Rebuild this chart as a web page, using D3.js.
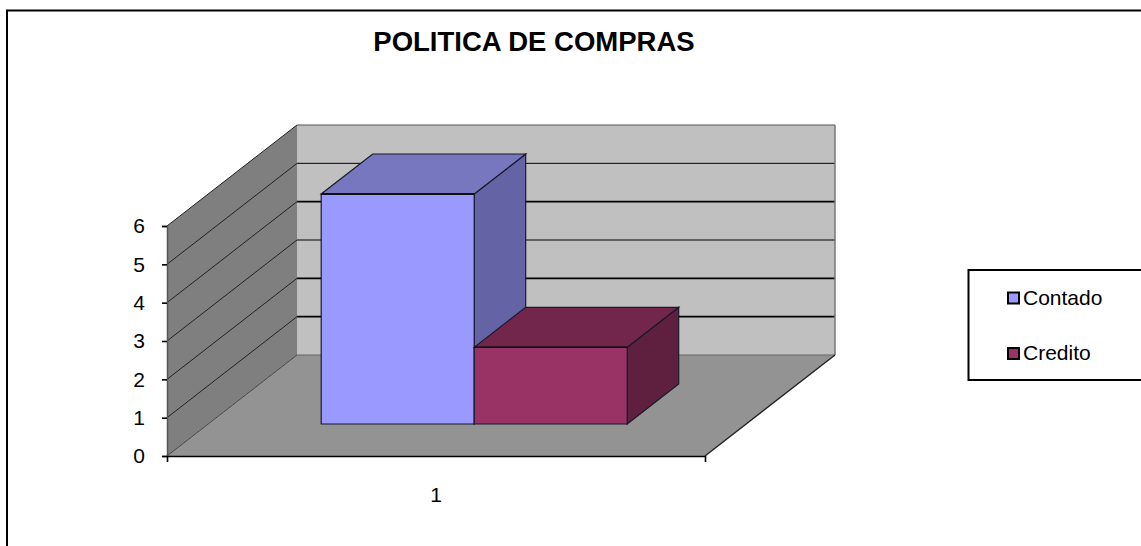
<!DOCTYPE html>
<html>
<head>
<meta charset="utf-8">
<script src="https://cdn.jsdelivr.net/npm/d3@7"></script>
<style>
	html, body {margin: 0; padding: 0; background: #fff; overflow: hidden;}
	text {font-family: "Liberation Sans", Arial, sans-serif; fill: #000;}
</style>
</head>
<body>
<div id="chart"></div>
<script>
var title = "POLITICA DE COMPRAS";
var categories = ["1"];
var seriesNames = ["Contado", "Credito"];
var seriesValues = [6, 2];
var yTicks = [0, 1, 2, 3, 4, 5, 6];

var barColors = {
	Contado : {front : "#9999ff", top : "#7777bf", side : "#6363a5"},
	Credito : {front : "#993366", top : "#73264c", side : "#5f203f"}
};

var svg = d3.select("#chart").append("svg")
			.attr("width", 1141)
			.attr("height", 546);

// front plane of the box, depth is handled apart
var y = d3.scaleLinear().domain([0, 6]).range([456, 226]);
var x = d3.scaleBand().domain(categories).range([167, 705]);
var barX = d3.scaleBand().domain(seriesNames)
			.range([x(categories[0]) + 113, x(categories[0]) + 419]);
var depthX = d3.scaleLinear().domain([0, 1]).range([0, 130]);
var depthY = d3.scaleLinear().domain([0, 1]).range([0, -101]);

// value space to screen: px on the front plane, v is the value, d the depth
function pt(px, v, d) {
	return [px + depthX(d), y(v) + depthY(d)];
}

var line = d3.line();

function poly(points, fill, stroke, width) {
	svg.append("path")
		.attr("d", line(points) + "Z")
		.attr("fill", fill)
		.attr("stroke", stroke || "none")
		.attr("stroke-width", width || 0)
		.attr("stroke-linejoin", "miter");
}

function seg(a, b, stroke, width) {
	svg.append("path")
		.attr("d", line([a, b]))
		.attr("fill", "none")
		.attr("stroke", stroke)
		.attr("stroke-width", width);
}

// outer frame
svg.append("rect")
	.attr("x", 7).attr("y", 10.5)
	.attr("width", 1200).attr("height", 600)
	.attr("fill", "#fff")
	.attr("stroke", "#000")
	.attr("stroke-width", 2);

svg.append("text")
	.attr("x", 534).attr("y", 51)
	.attr("text-anchor", "middle")
	.attr("font-size", 27.5)
	.attr("font-weight", "bold")
	.text(title);

// walls and floor
var x0 = x.range()[0], x1 = x.range()[1];
poly([pt(x0, 6, 1), pt(x1, 6, 1), pt(x1, 0, 1), pt(x0, 0, 1)], "#c0c0c0");
poly([pt(x0, 6, 0), pt(x0, 6, 1), pt(x0, 0, 1), pt(x0, 0, 0)], "#7f7f7f");
poly([pt(x0, 0, 0), pt(x1, 0, 0), pt(x1, 0, 1), pt(x0, 0, 1)], "#939393");

// gridlines run along the side wall and the back wall
yTicks.slice(1).forEach(function(t) {
	var heavy = t % 2 == 0 && t < 6 || t == 1;
	seg(pt(x0, t, 0), pt(x0, t, 1), "#222", 1);
	seg(pt(x0, t, 1), pt(x1, t, 1), t == 6 ? "#555" : "#000", heavy ? 1.6 : 1);
});
seg(pt(x1, 6, 1), pt(x1, 0, 1), "#777", 1.5);
seg(pt(x0, 0, 1), pt(x1, 0, 1), "#666", 1);
seg(pt(x0, 0, 0), pt(x0, 0, 1), "#444", 1);
seg(pt(x1, 0, 0), pt(x1, 0, 1), "#222", 1.4);

var d0 = 0.317, d1 = 0.713;
seriesNames.forEach(function(name, i) {
	var c = barColors[name];
	var left = barX(name), right = left + barX.bandwidth();
	var v = seriesValues[i];
	var edge = "#1a1a2a";

	poly([pt(right, 0, d0), pt(right, v, d0), pt(right, v, d1), pt(right, 0, d1)], c.side, edge, 1.2);
	poly([pt(left, v, d0), pt(right, v, d0), pt(right, v, d1), pt(left, v, d1)], c.top, edge, 1.2);
	poly([pt(left, 0, d0), pt(right, 0, d0), pt(right, v, d0), pt(left, v, d0)], c.front, edge, 1.2);
	seg(pt(left, v, d0), pt(right, v, d0), "#111", i == 0 ? 2 : 1.4);
});

// axes
var yAxis = d3.axisLeft(y).tickValues(yTicks).tickSize(5).tickPadding(17).tickFormat(d3.format("d"));
var gy = svg.append("g").attr("transform", "translate(" + x0 + ",0)").call(yAxis);
gy.select(".domain").attr("stroke", "#555").attr("stroke-width", 1.5);
gy.selectAll(".tick line").attr("stroke", "#000").attr("stroke-width", 1.6);
gy.selectAll("text").attr("font-size", 21).attr("font-family", null);

var xAxis = d3.axisBottom(x).tickValues([]).tickSizeOuter(6);
var gx = svg.append("g").attr("transform", "translate(0,456)").call(xAxis);
gx.select(".domain").attr("stroke", "#000").attr("stroke-width", 1.6);

svg.append("text")
	.attr("x", x(categories[0]) + x.bandwidth() / 2)
	.attr("y", 502)
	.attr("text-anchor", "middle")
	.attr("font-size", 21)
	.text(categories[0]);

// legend
var legend = svg.append("g");
legend.append("rect")
	.attr("x", 968.5).attr("y", 270)
	.attr("width", 200).attr("height", 110)
	.attr("fill", "#fff")
	.attr("stroke", "#000")
	.attr("stroke-width", 2);

var items = legend.selectAll("g.item")
			.data(seriesNames)
			.enter()
			.append("g")
			.attr("class", "item")
			.attr("transform", function(d, i) {return "translate(0," + (298 + i * 55.5) + ")";});

items.append("rect")
	.attr("x", 1008).attr("y", -5.5)
	.attr("width", 11).attr("height", 11)
	.attr("fill", function(d) {return barColors[d].front;})
	.attr("stroke", "#000")
	.attr("stroke-width", 2);

items.append("text")
	.attr("x", 1023).attr("y", 6.5)
	.attr("font-size", 21)
	.text(function(d) {return d;});
</script>
</body>
</html>
